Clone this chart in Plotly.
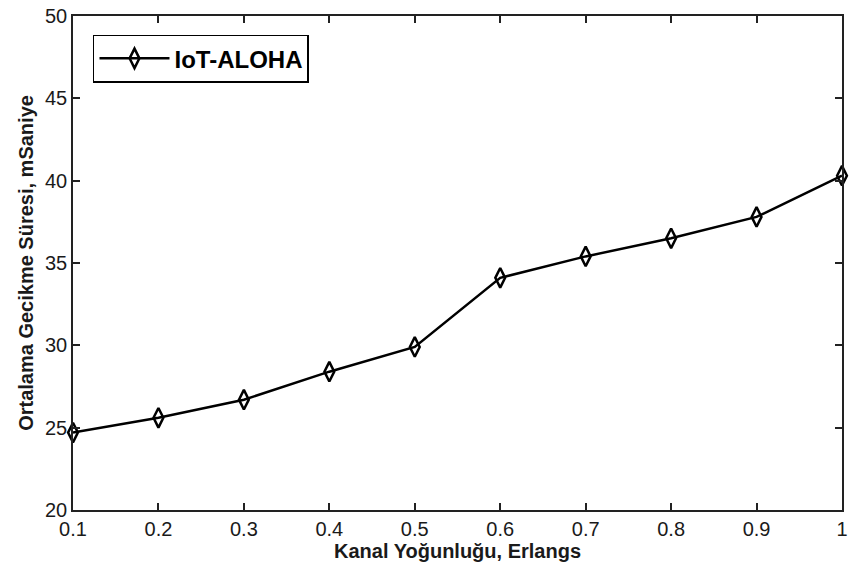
import plotly.graph_objects as go

x_vals = [0.1, 0.2, 0.3, 0.4, 0.5, 0.6, 0.7, 0.8, 0.9, 1.0]
delay_ms = [24.7, 25.6, 26.7, 28.4, 29.9, 34.1, 35.4, 36.5, 37.8, 40.3]
series_name = "IoT-ALOHA"
x_title = "Kanal Yoğunluğu, Erlangs"
y_title = "Ortalama Gecikme Süresi, mSaniye"
x_ticks = [0.1, 0.2, 0.3, 0.4, 0.5, 0.6, 0.7, 0.8, 0.9, 1.0]
x_ticktext = ["0.1", "0.2", "0.3", "0.4", "0.5", "0.6", "0.7", "0.8", "0.9", "1"]
y_ticks = [20, 25, 30, 35, 40, 45, 50]

FONT = "Liberation Sans, Arial, sans-serif"
TXT = "#1a1a1a"

fig = go.Figure()
fig.add_trace(go.Scatter(
    x=x_vals, y=delay_ms, name=series_name, mode="lines+markers",
    line=dict(color="black", width=2.5),
    marker=dict(symbol="diamond-tall-open", size=14, color="black",
                line=dict(color="black", width=2.5)),
    cliponaxis=False,
))

axis_common = dict(
    showgrid=False, zeroline=False, showline=True, linecolor="#222222",
    linewidth=1.5, mirror="ticks", ticks="inside", ticklen=7,
    tickcolor="#222222", tickwidth=1.5,
    tickfont=dict(family=FONT, size=20, color=TXT),
    ticklabeloverflow="allow",
)

fig.update_layout(
    width=850, height=572,
    margin=dict(l=73, r=2, t=16, b=62),
    paper_bgcolor="white", plot_bgcolor="white",
    font=dict(family=FONT, color=TXT),
    showlegend=True,
    legend=dict(
        x=0.026, y=0.962, xanchor="left", yanchor="top",
        bgcolor="white", bordercolor="black", borderwidth=1.5,
        itemwidth=70,
        font=dict(family=FONT, size=24, color="black", weight="bold"),
    ),
    xaxis=dict(
        range=[0.1, 1.0], tickvals=x_ticks, ticktext=x_ticktext,
        title=dict(text=x_title, font=dict(family=FONT, size=20, color=TXT, weight="bold"), standoff=4),
        **axis_common,
    ),
    yaxis=dict(
        range=[20, 50], tickvals=y_ticks,
        title=dict(text=y_title, font=dict(family=FONT, size=20, color=TXT, weight="bold"), standoff=6),
        **axis_common,
    ),
)

fig.write_html("out.html")
